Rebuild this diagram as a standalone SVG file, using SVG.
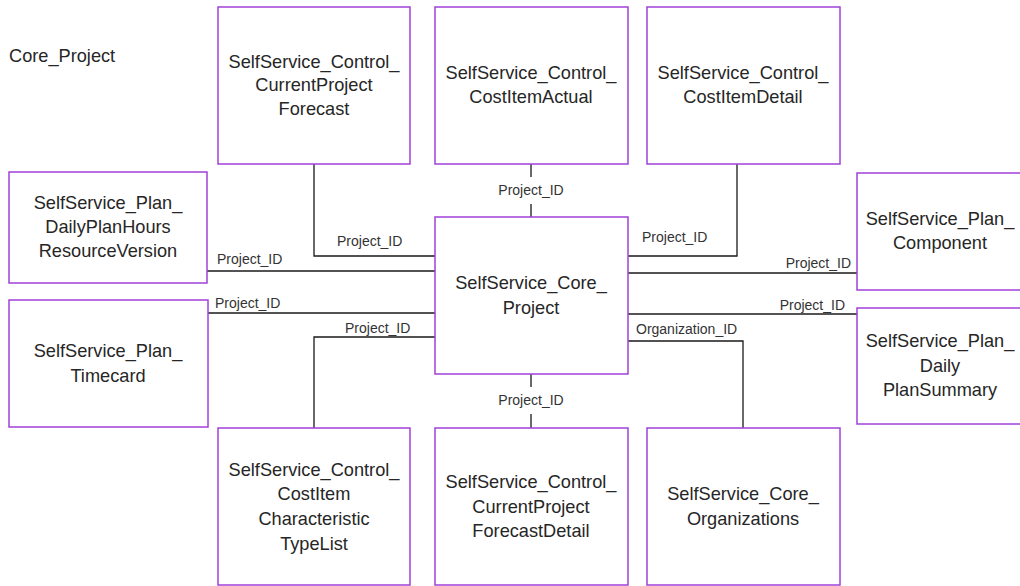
<svg xmlns="http://www.w3.org/2000/svg" width="1020" height="586" viewBox="0 0 1020 586">
<style>
.box{fill:#fff;stroke:#A040D8;stroke-width:1.5}
.t{font-family:"Liberation Sans",Arial,sans-serif;font-size:18.2px;fill:#262626;text-anchor:middle}
.lbl{font-family:"Liberation Sans",Arial,sans-serif;font-size:14px;fill:#333}
.ln{fill:none;stroke:#1a1a1a;stroke-width:1.3}
</style>
<rect width="1020" height="586" fill="#fff"/>
<text x="9" y="62" class="t" style="text-anchor:start;font-size:18.2px">Core_Project</text>
<g id="connectors">
<path class="ln" d="M531 164V177M531 204V217"/>
<path class="ln" d="M314 164V256H435"/>
<path class="ln" d="M207 271H435"/>
<path class="ln" d="M208 313H435"/>
<path class="ln" d="M314 428V337H435"/>
<path class="ln" d="M737 164V256H628"/>
<path class="ln" d="M628 273H857"/>
<path class="ln" d="M628 314H857"/>
<path class="ln" d="M628 341H743V428"/>
<path class="ln" d="M531 374V387M531 414V428"/>
<text class="lbl" x="531" y="195" text-anchor="middle">Project_ID</text>
<text class="lbl" x="337" y="246">Project_ID</text>
<text class="lbl" x="217" y="264">Project_ID</text>
<text class="lbl" x="215" y="308">Project_ID</text>
<text class="lbl" x="345" y="333">Project_ID</text>
<text class="lbl" x="642" y="242">Project_ID</text>
<text class="lbl" x="851" y="268" text-anchor="end">Project_ID</text>
<text class="lbl" x="845" y="310" text-anchor="end">Project_ID</text>
<text class="lbl" x="636" y="334">Organization_ID</text>
<text class="lbl" x="531" y="405" text-anchor="middle">Project_ID</text>
</g>
<g id="n_cpf"><rect class="box" x="218" y="7" width="192" height="157"/>
<text class="t" x="314" y="68">SelfService_Control_</text><text class="t" x="314" y="91">CurrentProject</text><text class="t" x="314" y="115">Forecast</text></g>
<g id="n_cia"><rect class="box" x="435" y="7" width="193" height="157"/>
<text class="t" x="531" y="79">SelfService_Control_</text><text class="t" x="531" y="103">CostItemActual</text></g>
<g id="n_cid"><rect class="box" x="647" y="7" width="193" height="157"/>
<text class="t" x="743" y="79">SelfService_Control_</text><text class="t" x="743" y="103">CostItemDetail</text></g>
<g id="n_dph"><rect class="box" x="9" y="172" width="198" height="111"/>
<text class="t" x="108" y="209">SelfService_Plan_</text><text class="t" x="108" y="233">DailyPlanHours</text><text class="t" x="108" y="257">ResourceVersion</text></g>
<g id="n_core"><rect class="box" x="435" y="217" width="193" height="157"/>
<text class="t" x="531" y="289">SelfService_Core_</text><text class="t" x="531" y="314">Project</text></g>
<g id="n_comp"><rect class="box" x="857" y="173" width="170" height="117"/>
<text class="t" x="940" y="225">SelfService_Plan_</text><text class="t" x="940" y="249">Component</text></g>
<g id="n_dps"><rect class="box" x="857" y="308" width="170" height="116"/>
<text class="t" x="940" y="347">SelfService_Plan_</text><text class="t" x="940" y="372">Daily</text><text class="t" x="940" y="396">PlanSummary</text></g>
<g id="n_tc"><rect class="box" x="9" y="300" width="199" height="127"/>
<text class="t" x="108" y="357">SelfService_Plan_</text><text class="t" x="108" y="382">Timecard</text></g>
<g id="n_cic"><rect class="box" x="218" y="428" width="192" height="157"/>
<text class="t" x="314" y="476">SelfService_Control_</text><text class="t" x="314" y="500">CostItem</text><text class="t" x="314" y="525">Characteristic</text><text class="t" x="314" y="550">TypeList</text></g>
<g id="n_cpfd"><rect class="box" x="435" y="428" width="193" height="157"/>
<text class="t" x="531" y="488">SelfService_Control_</text><text class="t" x="531" y="513">CurrentProject</text><text class="t" x="531" y="537">ForecastDetail</text></g>
<g id="n_org"><rect class="box" x="647" y="428" width="193" height="157"/>
<text class="t" x="743" y="500">SelfService_Core_</text><text class="t" x="743" y="525">Organizations</text></g>
</svg>
